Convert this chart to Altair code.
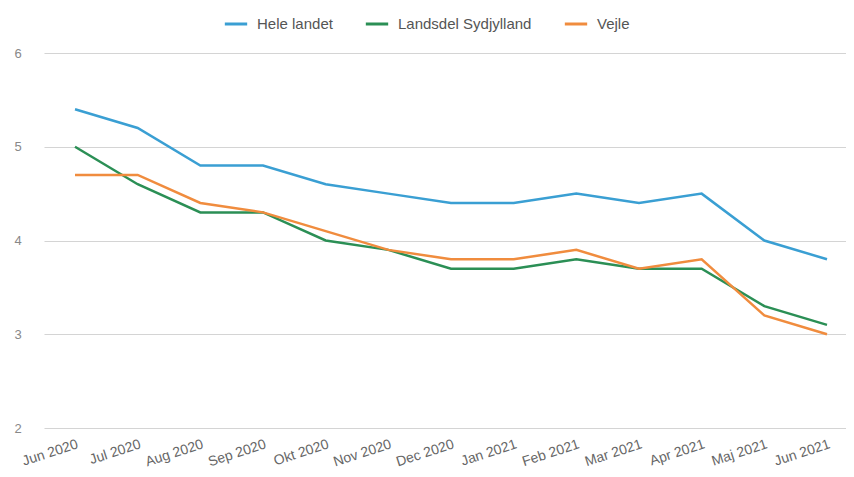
import altair as alt
import pandas as pd

months = ["Jun 2020", "Jul 2020", "Aug 2020", "Sep 2020", "Okt 2020", "Nov 2020",
          "Dec 2020", "Jan 2021", "Feb 2021", "Mar 2021", "Apr 2021", "Maj 2021", "Jun 2021"]
series_names = ["Hele landet", "Landsdel Sydjylland", "Vejle"]
hele_landet = [5.4, 5.2, 4.8, 4.8, 4.6, 4.5, 4.4, 4.4, 4.5, 4.4, 4.5, 4.0, 3.8]
sydjylland = [5.0, 4.6, 4.3, 4.3, 4.0, 3.9, 3.7, 3.7, 3.8, 3.7, 3.7, 3.3, 3.1]
vejle = [4.7, 4.7, 4.4, 4.3, 4.1, 3.9, 3.8, 3.8, 3.9, 3.7, 3.8, 3.2, 3.0]
colors = ["#3a9fd3", "#2b8f55", "#f08c3e"]

rows = []
for name, vals in zip(series_names, [hele_landet, sydjylland, vejle]):
    for m, v in zip(months, vals):
        rows.append({"Måned": m, "Serie": name, "Værdi": v})
df = pd.DataFrame(rows)

font = "Liberation Sans"

chart = alt.Chart(df).mark_line(strokeWidth=2.5).encode(
    x=alt.X("Måned:N", sort=months, title=None,
            scale=alt.Scale(type="point", padding=0.399, align=0.62),
            axis=alt.Axis(labelAngle=-18, labelAlign="right", labelBaseline="top",
                          labelPadding=9, ticks=False, domain=False, grid=False,
                          labelColor="#666", labelFontSize=14, labelFont=font)),
    y=alt.Y("Værdi:Q", title=None,
            scale=alt.Scale(domain=[2, 6], nice=False),
            axis=alt.Axis(values=[2, 3, 4, 5, 6], ticks=False, domain=False,
                          labelPadding=30, labelAlign="left", labelColor="#888",
                          labelFontSize=13, labelFont=font, gridColor="#d4d4d4",
                          gridWidth=1.2)),
    color=alt.Color("Serie:N", sort=series_names,
                    scale=alt.Scale(domain=series_names, range=colors),
                    legend=alt.Legend(orient="none", legendX=179, legendY=-42,
                                      direction="horizontal", title=None,
                                      symbolType="stroke", symbolStrokeWidth=3,
                                      symbolSize=500, labelOffset=8,
                                      labelFontSize=15, labelColor="#555",
                                      labelFont=font, columnPadding=26)),
).properties(
    width=802, height=375,
    autosize=alt.AutoSizeParams(type="none"),
    padding={"left": 36, "top": 45, "right": 0, "bottom": 40},
).configure(background="white").configure_view(stroke=None)

chart.save("out.html", embed_options={"renderer": "svg", "actions": False})
